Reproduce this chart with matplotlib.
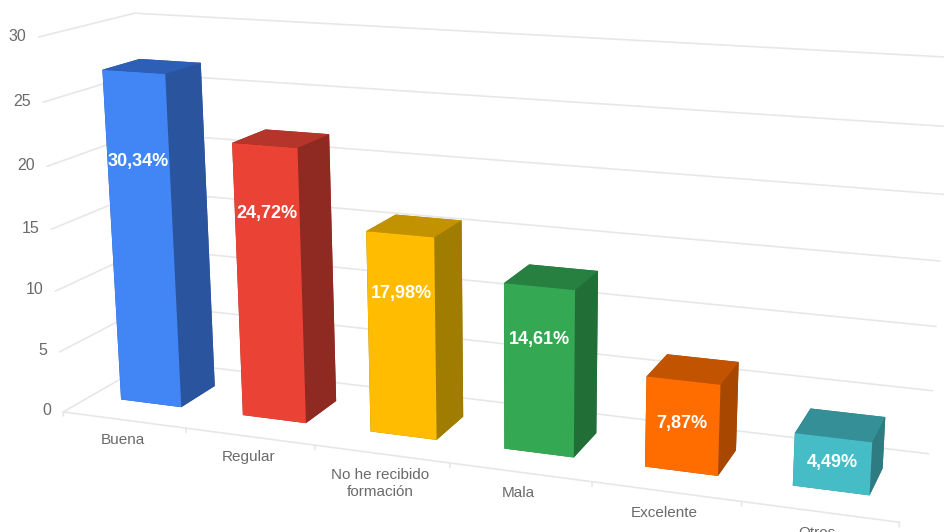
import numpy as np
import matplotlib
matplotlib.use("Agg")
import matplotlib.pyplot as plt
from mpl_toolkits.mplot3d import Axes3D, proj3d  # noqa: F401

# ---- data -----------------------------------------------------------
categories = ["Buena", "Regular", "No he recibido\nformación", "Mala", "Excelente", "Otros"]
counts = [27, 22, 16, 13, 7, 4]
percent_labels = ["30,34%", "24,72%", "17,98%", "14,61%", "7,87%", "4,49%"]
y_ticks = [0, 5, 10, 15, 20, 25, 30]

# ---- styles ---------------------------------------------------------
front_colors = ["#4285F4", "#EA4335", "#FFBC00", "#34A853", "#FF6D01", "#46BDC6"]
top_colors = ["#2E5FB6", "#B5352A", "#C29200", "#27803F", "#C25300", "#358F96"]
side_colors = ["#2A549E", "#8F2A22", "#A07C00", "#226E37", "#A84700", "#2E7C82"]
GRID = "#E7E7E7"
TEXT = "#6A6A6A"
BAR_W = 0.5
DEPTH_FRONT, DEPTH_BACK = 0.3, 0.7
label_heights = [19.9, 16.7, 11.4, 8.9, 3.7, 2.1]

W, H = 944, 532
plt.rcParams["font.family"] = ["Liberation Sans", "DejaVu Sans"]
fig = plt.figure(figsize=(W / 100, H / 100), dpi=100, facecolor="white")
# 3D axes are forced square: make the square as wide as the figure
ax = fig.add_axes([0, (H - W) / 2 / H, 1, W / H], projection="3d", computed_zorder=False)
ax.set_proj_type("ortho")
ax.set_xticks([])
ax.set_yticks([])
ax.set_zticks([])
ax.set_axis_off()
ax.apply_aspect()

# ---- camera: calibrated from where the chart's frame sits on the canvas
calib_world = np.array([
    (0, 0, 0), (6, 0, 0), (0, 1, 0), (6, 1, 0), (0, 0, 30), (0, 1, 30), (6, 1, 30),
    (0, 0, 5), (0, 0, 20), (0, 0, 25), (6, 1, 5),
    (1, 0, 0), (2, 0, 0), (3, 0, 0), (4, 0, 0), (5, 0, 0),
    (0.25, 0.3, 27), (5.75, 0.3, 0),
], float)
calib_px = np.array([
    (63, 412), (899, 522), (154, 361), (928, 454), (40, 37), (133, 13), (952, 58),
    (59, 351), (48, 166), (43, 102), (933, 390),
    (185, 429), (314, 445), (450, 463), (592, 483), (742, 502),
    (102, 70), (870, 494),
], float)
disp = np.column_stack([calib_px[:, 0], H - calib_px[:, 1]])
view = ax.transData.inverted().transform(disp)
scale = np.diag([1 / 6, 1, 1 / 30, 1])
rows = []
for wpt, (u, v) in zip(calib_world, view):
    X = scale @ np.r_[wpt, 1]
    rows.append(np.r_[X, np.zeros(4), -u * X])
    rows.append(np.r_[np.zeros(4), X, -v * X])
P = np.linalg.svd(np.array(rows))[2][-1].reshape(3, 4) @ scale
P = P / (P[2] @ np.array([3, 0.5, 15, 1]))
M = np.vstack([P[0], P[1], P[2] - np.array([0, 0, 0, 1.0]), P[2]])
ax.get_proj = lambda: M


def label(x, y, z, s, **kw):
    """Real 2D text placed at the projection of a data point."""
    px, py, _ = proj3d.proj_transform(x, y, z, M)
    return ax.text2D(px, py, s, transform=ax.transData, clip_on=False, **kw)


# ---- frame ----------------------------------------------------------
n = len(categories)
grid_kw = dict(color=GRID, lw=1.2, zorder=1, solid_capstyle="round", clip_on=False)
for z in y_ticks:
    ax.plot([0, 0, n], [0, 1, 1], [z, z, z], **grid_kw)
    label(-0.1, 0, z, str(z), ha="right", va="center", fontsize=11.5, color=TEXT, zorder=3)
ax.plot([0, n], [0, 0], [0, 0], **grid_kw)
for i in range(n + 1):
    ax.plot([i, i], [0, 0], [0, -0.35], **grid_kw)

# ---- bars -----------------------------------------------------------
xpos = np.arange(n) + 0.5 - BAR_W / 2
face_colors = []
for f, t, s in zip(front_colors, top_colors, side_colors):
    # order used by bar3d: -z, +z, -y, +y, -x, +x
    face_colors += [s, t, f, s, s, s]
ax.bar3d(xpos, np.full(n, DEPTH_FRONT), np.zeros(n), BAR_W, DEPTH_BACK - DEPTH_FRONT, counts,
         color=face_colors, shade=False, linewidth=0, zorder=2)

# ---- text -----------------------------------------------------------
for i, (lab, z) in enumerate(zip(percent_labels, label_heights)):
    label(i + 0.5, DEPTH_FRONT, z, lab, ha="center", va="center", fontsize=13,
          fontweight="bold", color="white", zorder=4)
for i, cat in enumerate(categories):
    label(i + 0.49, 0, -1.1, cat, ha="center", va="top", fontsize=11, color=TEXT,
          linespacing=1.35, zorder=3)

fig.savefig("out.png", dpi=100, facecolor="white")
